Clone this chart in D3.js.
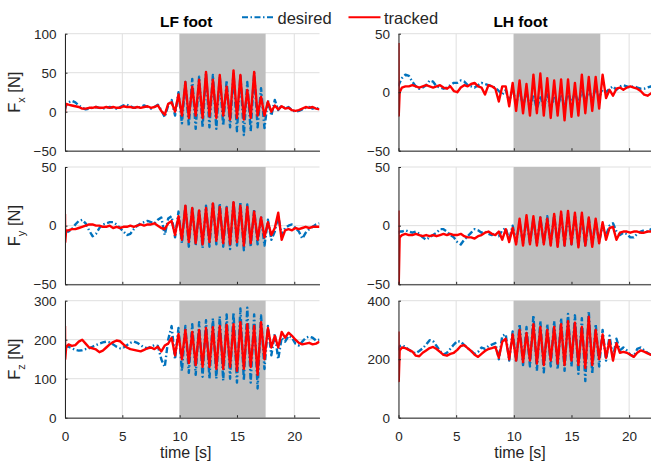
<!DOCTYPE html>
<html>
<head>
<meta charset="utf-8">
<script src="https://cdn.jsdelivr.net/npm/d3@7"></script>
<style>
  body { margin: 0; background: #fff; }
  svg { display: block; font-family: "Liberation Sans", Arial, sans-serif; }
</style>
</head>
<body>
<svg id="chart" width="651" height="464"></svg>
<script>
// ---------------- DATA ----------------
const time = [0, 0.02, 0.1,
  0.3,0.6,0.9,1.2,1.5,1.8,2.1,2.4,2.7,3.0,
  3.3,3.6,3.9,4.2,4.5,4.8,5.1,5.4,5.7,6.0,
  6.3,6.6,6.9,7.2,7.5,7.8,8.1,8.4,8.7,9.0,
  9.3,9.6,9.9,10.2,10.5,10.8,11.1,11.4,11.7,12.0,
  12.3,12.6,12.9,13.2,13.5,13.8,14.1,14.4,14.7,15.0,
  15.3,15.6,15.9,16.2,16.5,16.8,17.1,17.4,17.7,18.0,
  18.3,18.6,18.9,19.2,19.5,19.8,20.1,20.4,20.7,21.0,
  21.3,21.6,21.9,22.2];

const columnTitles = ["LF foot", "LH foot"];
const seriesNames = ["desired", "tracked"];
const xTicks = [0, 5, 10, 15, 20];
const xDomain = [0, 22.2];
const shadeInterval = [10, 17.5];

// LF foot
const lfFxDesired = [3, 4, 8,
  12, 14, 12, 8, 5, 3, 4, 5, 6, 5,
  4, 5, 6, 5, 4, 6, 8, 9, 7, 5,
  5, 6, 8, 6, 4, 6, 9, 2, -7, 8,
  15, -5, 25, -15, 38, -18, 42, -22, 45, -20,
  50, -20, 47, -22, 45, -18, 40, -20, 50, -25,
  48, -30, 38, -25, 50, -20, 30, -21, 15, -5,
  15, 2, 8, 4, 6, 2, 0, 1, 3, 5,
  6, 4, 5, 3];
const lfFxTracked = [-2, 5, 10,
  9, 8, 7, 6, 4, 4, 5, 5, 6, 5,
  5, 6, 5, 6, 5, 5, 7, 6, 6, 5,
  6, 5, 6, 7, 5, 6, 8, 1, -4, 10,
  12, 0, 22, -5, 38, -8, 32, -5, 41, -8,
  51, -6, 41, -8, 47, -5, 32, -10, 53, -8,
  47, -10, 28, -8, 51, -5, 19, -5, 13, 0,
  8, 3, 7, 4, 5, 2, 1, 2, 4, 6,
  5, 6, 4, 3];

const lfFyDesired = [-6, -6, -5,
  -5, -3, 1, 4, 5, 2, -4, -9, -7, -2,
  1, 2, 3, 3, 1, -2, -5, -8, -7, -3,
  0, 2, 3, 4, 3, 2, 5, 7, -8, 6,
  8, -10, 12, -15, 18, -18, 16, -17, 14, -19,
  17, -18, 20, -16, 19, -18, 16, -20, 21, -17,
  20, -21, 18, -18, 14, -16, 8, -17, 5, -12,
  -5, 8, -8, -2, 0, 1, -2, -5, -11, -6,
  -3, -1, 1, 2];
const lfFyTracked = [10, -14, -4,
  -4, -3, -3, -2, -1, 0, 1, 1, 0, 0,
  -1, -1, 0, -2, -1, -2, -1, -1, 0, -1,
  0, 1, 0, 1, 1, 2, 0, -2, -3, 2,
  4, -8, 8, -12, 17, -14, 15, -15, 13, -16,
  15, -14, 19, -13, 16, -15, 15, -16, 20, -14,
  17, -17, 16, -15, 12, -12, 7, -10, 3, -8,
  -2, 11, -12, -4, -3, -4, -2, -3, -2, -1,
  -2, -1, -1, -1];

const lfFzDesired = [185, 185, 184,
  182, 178, 174, 172, 173, 176, 178, 182, 186, 190,
  193, 195, 193, 188, 182, 178, 180, 186, 192, 195,
  192, 186, 180, 178, 182, 186, 184, 150, 130, 200,
  235, 150, 230, 120, 235, 115, 240, 110, 245, 105,
  250, 100, 255, 100, 260, 95, 265, 100, 270, 90,
  280, 95, 282, 90, 265, 75, 262, 125, 235, 160,
  215, 150, 205, 195, 210, 205, 190, 185, 195, 205,
  208, 205, 198, 200];
const lfFzTracked = [235, 150, 180,
  188, 184, 186, 195, 200, 190, 180, 178, 175, 168,
  172, 180, 188, 194, 198, 196, 188, 180, 176, 174,
  172, 170, 174, 178, 180, 176, 182, 170, 185, 190,
  205, 160, 215, 150, 225, 140, 220, 135, 225, 130,
  230, 130, 232, 125, 235, 125, 238, 130, 240, 120,
  245, 125, 240, 130, 235, 110, 245, 150, 230, 180,
  210, 180, 220, 205, 218, 210, 200, 192, 188, 190,
  192, 188, 190, 195];

// LH foot
const lhFxDesired = [5, 6, 8,
  12, 15, 14, 9, 5, 3, 4, 6, 10, 9,
  5, 4, 3, 4, 6, 8, 8, 10, 9, 6,
  5, 4, 6, 8, 7, 6, 5, 4, 1, -2,
  2, -8, 3, -10, 2, -12, 0, -14, -2, -15,
  -3, -14, -2, -15, -3, -13, -2, -12, 0, -10,
  0, -10, 2, -8, 2, -6, 3, -4, 2, 0,
  3, 5, 2, 5, 6, 5, 4, 5, 4, 3,
  3, 4, 5, 6];
const lhFxTracked = [42, -20, 0,
  4, 5, 5, 6, 5, 4, 5, 6, 5, 4,
  5, 6, 4, 3, 5, 1, 0, 4, 6, 5,
  7, 8, 5, 4, -2, 6, 5, 3, -8, 5,
  5, -12, 8, -16, 10, -18, 7, -20, 15, -18,
  16, -20, 12, -22, 10, -20, 11, -24, 11, -21,
  8, -20, 15, -18, 13, -16, 13, -14, 15, -5,
  2, -3, 3, 4, 2, 4, 5, 4, 3, 1,
  -2, -3, -1, 0];

const lhFyDesired = [-6, -6, -5,
  -5, -4, -5, -6, -5, -7, -10, -12, -10, -8,
  -6, -3, -3, -5, -8, -10, -14, -16, -12, -9,
  -6, -3, -4, -6, -5, -7, -8, -6, -9, -4,
  -2, -12, 0, -14, 3, -15, 5, -15, 6, -16,
  7, -15, 8, -16, 9, -17, 10, -17, 10, -16,
  9, -17, 8, -18, 6, -16, 4, -14, 0, -8,
  0, 2, -5, -8, -6, -7, -10, -10, -7, -5,
  -4, -5, -3, -1];
const lhFyTracked = [13, -50, -10,
  -8, -7, -8, -8, -7, -8, -9, -8, -9, -8,
  -9, -8, -7, -8, -7, -8, -8, -7, -9, -10,
  -10, -11, -9, -8, -6, -5, -7, -8, -5, -12,
  -3, -14, -2, -16, 6, -17, 9, -16, 8, -17,
  7, -16, 6, -17, 10, -18, 12, -17, 12.5, -16,
  11, -18.5, 11, -17, 7, -18, 6, -15, 3, -12,
  -2, -1, -12, -6, -5, -5, -6, -5, -5, -6,
  -6, -5, -5, -5];

const lhFzDesired = [230, 235, 245,
  248, 242, 232, 225, 220, 228, 237, 250, 265, 262,
  245, 228, 216, 222, 236, 250, 262, 260, 248, 238,
  228, 218, 225, 240, 235, 245, 250, 255, 200, 280,
  285, 195, 295, 190, 320, 180, 310, 175, 350, 160,
  330, 155, 320, 175, 330, 165, 340, 160, 355, 175,
  350, 150, 340, 125, 365, 150, 320, 175, 300, 195,
  280, 205, 270, 230, 240, 230, 215, 210, 235, 240,
  230, 222, 215, 218];
const lhFzTracked = [295, 125, 230,
  240, 238, 232, 226, 212, 210, 222, 230, 238, 242,
  235, 225, 215, 212, 218, 222, 232, 245, 248, 238,
  228, 215, 208, 218, 228, 235, 238, 242, 205, 260,
  270, 200, 285, 195, 300, 190, 290, 195, 320, 185,
  310, 180, 300, 195, 310, 185, 320, 180, 330, 195,
  325, 180, 310, 170, 345, 180, 300, 200, 285, 205,
  265, 195, 255, 222, 225, 222, 215, 208, 222, 230,
  226, 220, 215, 212];

const fxLeftTicks = [-50, 0, 50, 100];
const fxRightTicks = [-50, 0, 50];
const fyTicks = [-50, 0, 50];
const fzLeftTicks = [0, 100, 200, 300];
const fzRightTicks = [0, 200, 400];
const yLabels = ["x", "y", "z"];

// ---------------- LAYOUT ----------------
const svg = d3.select("#chart");
const colX = [[65, 319.5], [398.5, 654.5]];
const rowY = [[33.7, 150.7], [167, 284.3], [300.7, 417.7]];
const BLUE = "#0072BD", RED = "#FF0000", AXIS = "#262626", GRID = "#dfdfdf", SHADE = "#bfbfbf";
const DASH = "6,2.5,1.5,2.5";

const panels = [
  {col: 0, row: 0, domain: [-50, 100], ticks: fxLeftTicks, d: lfFxDesired, t: lfFxTracked},
  {col: 0, row: 1, domain: [-50, 50], ticks: fyTicks, d: lfFyDesired, t: lfFyTracked},
  {col: 0, row: 2, domain: [0, 300], ticks: fzLeftTicks, d: lfFzDesired, t: lfFzTracked},
  {col: 1, row: 0, domain: [-50, 50], ticks: fxRightTicks, d: lhFxDesired, t: lhFxTracked},
  {col: 1, row: 1, domain: [-50, 50], ticks: fyTicks, d: lhFyDesired, t: lhFyTracked},
  {col: 1, row: 2, domain: [0, 400], ticks: fzRightTicks, d: lhFzDesired, t: lhFzTracked},
];

panels.forEach((p, i) => {
  const x = d3.scaleLinear().domain(xDomain).range(colX[p.col]);
  const y = d3.scaleLinear().domain(p.domain).range([rowY[p.row][1], rowY[p.row][0]]);
  const g = svg.append("g");
  const [x0, x1] = colX[p.col];
  const [y0, y1] = rowY[p.row];

  const clipId = "clip" + i;
  svg.append("clipPath").attr("id", clipId)
    .append("rect").attr("x", x0).attr("y", y0 - 1).attr("width", x1 - x0).attr("height", y1 - y0 + 2);

  // grid
  g.append("g").selectAll("line").data(xTicks).join("line")
    .attr("x1", d => x(d)).attr("x2", d => x(d)).attr("y1", y0).attr("y2", y1)
    .attr("stroke", GRID).attr("stroke-width", 1);
  g.append("g").selectAll("line").data(p.ticks).join("line")
    .attr("x1", x0).attr("x2", x1).attr("y1", d => y(d)).attr("y2", d => y(d))
    .attr("stroke", GRID).attr("stroke-width", 1);

  // shaded interval
  g.append("rect")
    .attr("x", x(shadeInterval[0])).attr("width", x(shadeInterval[1]) - x(shadeInterval[0]))
    .attr("y", y0).attr("height", y1 - y0).attr("fill", SHADE);

  const line = d3.line().x((v, k) => x(time[k])).y(v => y(v));
  const data = g.append("g").attr("clip-path", `url(#${clipId})`);
  data.append("path").attr("d", line(p.d)).attr("fill", "none")
    .attr("stroke", BLUE).attr("stroke-width", 2.4).attr("stroke-dasharray", DASH)
    .attr("stroke-linejoin", "round");
  data.append("path").attr("d", line(p.t)).attr("fill", "none")
    .attr("stroke", RED).attr("stroke-width", 2.4).attr("stroke-linejoin", "round");

  // axes
  const ax = d3.axisBottom(x).tickValues(xTicks).tickSize(-2.5).tickSizeOuter(0).tickPadding(14)
    .tickFormat(p.row === 2 ? d3.format("d") : () => "");
  const axg = g.append("g").attr("transform", `translate(0,${y1})`).call(ax);
  const ay = d3.axisLeft(y).tickValues(p.ticks).tickSize(-2.5).tickSizeOuter(0).tickPadding(8.5)
    .tickFormat(d3.format("d"));
  const ayg = g.append("g").attr("transform", `translate(${x0},0)`).call(ay);
  [axg, ayg].forEach(a => {
    a.select(".domain").attr("stroke", AXIS).attr("stroke-width", 1);
    a.selectAll(".tick line").attr("stroke", AXIS);
    a.selectAll("text").attr("fill", AXIS).attr("font-size", 13.5)
      .attr("font-family", "Liberation Sans, Arial, sans-serif");
  });

  if (p.row === 2) {
    g.append("text").attr("x", (x0 + x1) / 2 - 6.5).attr("y", 458)
      .attr("text-anchor", "middle").attr("font-size", 16).attr("fill", AXIS)
      .text("time [s]");
  }
  if (p.row === 0) {
    g.append("text").attr("x", (x0 + x1) / 2 - 6).attr("y", 27)
      .attr("text-anchor", "middle").attr("font-size", 15.5).attr("font-weight", "bold")
      .attr("fill", "#000").text(columnTitles[p.col]);
  }
  if (p.col === 0) {
    const lab = g.append("text")
      .attr("transform", `translate(19.5,${(y0 + y1) / 2}) rotate(-90)`)
      .attr("text-anchor", "middle").attr("font-size", 16.5).attr("fill", AXIS);
    lab.append("tspan").text("F");
    lab.append("tspan").attr("font-size", 11).attr("dy", 5).text(yLabels[p.row]);
    lab.append("tspan").attr("dy", -5).text(" [N]");
  }
});

// legend
const leg = svg.append("g");
const legItems = [
  {name: seriesNames[0], x1: 242, x2: 274, color: BLUE, dash: DASH},
  {name: seriesNames[1], x1: 348.5, x2: 380.5, color: RED, dash: null},
];
legItems.forEach(it => {
  leg.append("line").attr("x1", it.x1).attr("x2", it.x2).attr("y1", 17.3).attr("y2", 17.3)
    .attr("stroke", it.color).attr("stroke-width", 2).attr("stroke-dasharray", it.dash);
  leg.append("text").attr("x", it.x2 + 3.5).attr("y", 24).attr("font-size", 16.5)
    .attr("fill", AXIS).text(it.name);
});
</script>
</body>
</html>
